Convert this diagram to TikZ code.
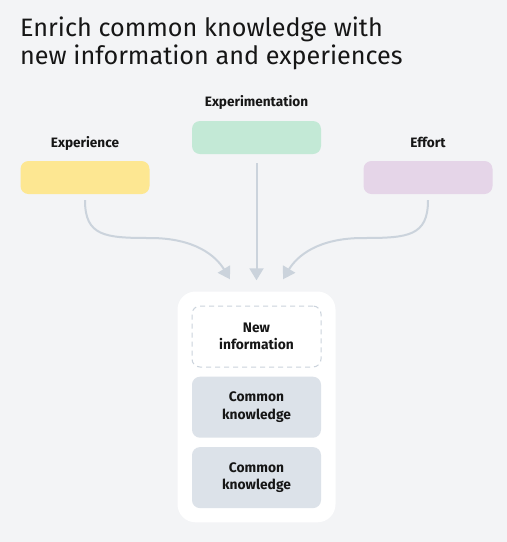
\documentclass[tikz,border=0pt]{standalone}
\usepackage{fontspec}
\setmainfont{Fira Sans}
\usepackage{xcolor}
\usetikzlibrary{arrows.meta, positioning, fit, backgrounds, calc}

\definecolor{pagebg}{HTML}{F3F4F6}
\definecolor{inkdark}{HTML}{161616}
\definecolor{flowgray}{HTML}{CBD3DC}
\definecolor{yellowbox}{HTML}{FDE792}
\definecolor{greenbox}{HTML}{C3E9D6}
\definecolor{purplebox}{HTML}{E5D5E8}
\definecolor{grayblock}{HTML}{DCE2E9}

\begin{document}
\begin{tikzpicture}[x=1pt, y=1pt, node distance=9pt]
\tikzstyle{source}=[rectangle, rounded corners=8pt, minimum width=129pt, minimum height=33pt, inner sep=0pt]
\tikzstyle{caption}=[font=\fontsize{13.6}{15}\selectfont\bfseries, text=inkdark, inner sep=0pt, text height=9.5pt, text depth=3pt]
\tikzstyle{block}=[rectangle, rounded corners=8pt, minimum width=129pt, minimum height=61pt, inner sep=0pt, align=center, font=\fontsize{13.8}{17.5}\selectfont\bfseries, text=inkdark]
\tikzstyle{flow}=[-{Triangle[length=12pt, width=14pt]}, line width=2pt, draw=flowgray]

\useasboundingbox (0,0) rectangle (507,-542);

\node[anchor=north west, align=left, inner sep=0pt, text=inkdark, font=\fontsize{25.2}{28}\selectfont] (title) at (20,-16.5) {Enrich common knowledge with\\new information and experiences};

\node[source, fill=greenbox] (experiment) at (256.5,-137.5) {};
\node[source, fill=yellowbox] (experience) at (85,-177.5) {};
\node[source, fill=purplebox] (effort) at (428,-177.5) {};
\node[caption, above=11pt of experiment] (experimentlbl) {Experimentation};
\node[caption, above=10.5pt of experience] (experiencelbl) {Experience};
\node[caption, above=10.5pt of effort] (effortlbl) {Effort};

\node[block, draw=flowgray, dashed, line width=1pt, dash pattern=on 5pt off 4pt] (newinfo) at (256.5,-336.5) {New\\information};
\node[block, fill=grayblock, below=of newinfo] (common) {Common\\knowledge};
\node[block, fill=grayblock, below=of common] (commonb) {Common\\knowledge};

\begin{scope}[on background layer]
\fill[pagebg] (0,0) rectangle (507,-542);
\node[fit=(newinfo) (common) (commonb), inner sep=14pt, fill=white, rounded corners=18pt] (stack) {};
\end{scope}

\coordinate (inleft) at ($(stack.north)+(-26.5,12)$);
\coordinate (inmid) at ($(stack.north)+(0,11)$);
\coordinate (inright) at ($(stack.north)+(26.5,12)$);

\draw[flow] ($(experience.south)+(0,-6)$) .. controls +(0,-36) and (105,-238) .. (150,-238) .. controls (195,-238) and (216,-256) .. (inleft);
\draw[flow] ($(experiment.south)+(0,-9)$) -- (inmid);
\draw[flow] ($(effort.south)+(0,-6)$) .. controls +(0,-36) and (408,-238) .. (363,-238) .. controls (318,-238) and (297,-256) .. (inright);

\end{tikzpicture}
\end{document}
